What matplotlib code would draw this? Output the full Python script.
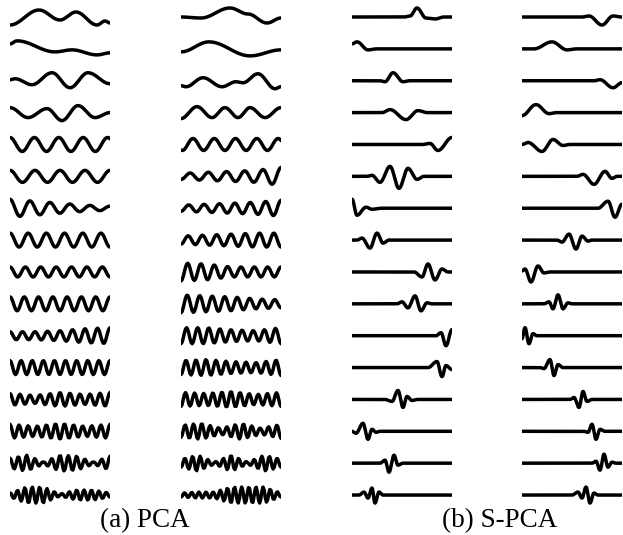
import numpy as np
import matplotlib
matplotlib.use("Agg")
import matplotlib.pyplot as plt

# peaks / troughs: (position along trace 0..1, height in px, up = +)
pca_a_top = [
    [(0, -8), (0.29, 7), (0.50, -3), (0.66, 5), (0.87, -8), (0.95, -4), (1.0, -6)],
    [(0, 5), (0.07, 8), (0.45, -3), (0.62, -1), (0.87, -6), (1.0, -4)],
    [(0, 1), (0.05, 2), (0.22, -4), (0.42, 8), (0.60, -7), (0.78, 8), (1.0, -3)],
    [(0, 5), (0.18, -5), (0.37, 4), (0.52, -8), (0.68, 7), (0.85, -5), (1.0, 0)],
]
pca_b_top = [
    [(0, 0), (0.2, -1), (0.49, 9), (0.67, 3), (0.86, -6), (1.0, -1)],
    [(0, -3), (0.28, 7), (0.69, -7), (1.0, -1)],
    [(0, -5), (0.05, -6), (0.22, 3), (0.41, -6), (0.55, -1), (0.62, -2), (0.77, 7), (0.94, -8), (1.0, -6)],
    [(0, -6), (0.16, 6), (0.31, -5), (0.44, 5), (0.57, -5), (0.69, 5), (0.84, -5), (1.0, 5)],
]

# rows 5..16 of the PCA columns: cycles per trace, phase (turns), amplitude envelope (px)
pca_a_cycles = [4.1, 4.0, 5.0, 5.5, 6.5, 7.0, 8.0, 9.0, 10.0, 11.0, 12.0, 13.5]
pca_a_phase = [0, 0, 0, 0, 0, 0, 0, 0, 0, 0, 0, 0]
pca_a_env = [
    [7, 7], [6, 6], [9, 7, 5, 3, 2], [7, 7], [5, 5], [7, 7],
    [4, 4, 5, 7, 8], [7, 7], [6, 4, 7, 5, 7], [7, 5, 8, 5, 7],
    [5, 8, 1, 8, 7, 1, 7], [2, 8, 8, 1, 5, 5, 2],
]
pca_b_cycles = [4.7, 5.5, 6.5, 7.0, 7.5, 8.0, 9.0, 10.0, 11.0, 12.0, 13.0, 14.0]
pca_b_phase = [0.436, 0.5, 0.5, 0.5, 0.5, 0.5, 0.5, 0.5, 0.5, 0.5, 0.5, 0.5]
pca_b_env = [
    [6, 6], [3, 4, 5, 6, 9], [3, 4, 5, 6, 8], [4, 5, 6, 7, 7], [9, 8, 5, 5, 5],
    [9, 8, 7, 5, 4], [8, 8, 6, 5, 8], [7, 8, 6, 5, 8], [7, 6, 8, 5, 7],
    [6, 8, 3, 8, 3, 7], [4, 8, 1, 8, 1, 8, 4], [2, 3, 3, 8, 8, 8, 2],
]

spca_a = [
    [(0, 0), (0.52, 0), (0.58, 1), (0.65, 9), (0.74, -1), (0.83, -2), (0.92, 0), (1, 0)],
    [(0, 5), (0.05, 7), (0.16, -1), (0.25, 0), (1, 0)],
    [(0, 0), (0.28, 0), (0.33, -1), (0.41, 8), (0.51, -1), (0.58, 0), (1, 0)],
    [(0, 0), (0.30, 0), (0.38, 3), (0.54, -7), (0.66, 2), (0.75, 0), (1, 0)],
    [(0, 0), (0.70, 0), (0.78, 1), (0.86, -6), (1.0, 7)],
    [(0, 0), (0.15, 0), (0.2, 1), (0.28, -6), (0.38, 10), (0.47, -12), (0.56, 8), (0.65, -3), (0.72, 0), (1, 0)],
    [(0, 9), (0.05, -7), (0.14, 1), (0.2, -1), (0.3, 0), (1, 0)],
    [(0, 0), (0.05, 0), (0.10, 2), (0.18, -8), (0.25, 7), (0.31, -3), (0.37, 0), (1, 0)],
    [(0, 0), (0.62, 0), (0.70, -5), (0.76, 8), (0.83, -8), (0.90, 3), (0.96, 0), (1, 0)],
    [(0, 0), (0.45, 0), (0.5, 2), (0.56, -4), (0.63, 8), (0.69, -7), (0.75, 1), (0.8, 0), (1, 0)],
    [(0, 0), (0.84, 0), (0.89, 3), (0.94, -10), (1.0, 6)],
    [(0, 0), (0.76, 0), (0.85, 6), (0.90, -9), (0.94, 2), (1.0, -2)],
    [(0, 0), (0.33, 0), (0.40, -2), (0.46, 9), (0.51, -8), (0.55, 3), (0.60, -1), (0.66, 0), (1, 0)],
    [(0, 0), (0.04, -2), (0.11, 8), (0.16, -8), (0.20, 2), (0.24, -1), (0.28, 0), (1, 0)],
    [(0, 0), (0.28, 0), (0.33, 3), (0.37, -9), (0.42, 8), (0.46, -2), (0.51, 0), (1, 0)],
    [(0, 0), (0.07, 0), (0.12, 3), (0.16, -3), (0.20, 7), (0.23, -8), (0.27, 3), (0.31, 0), (1, 0)],
]
spca_b = [
    [(0, 0), (0.6, 0), (0.67, 1), (0.80, -8), (0.91, 1), (1, 0)],
    [(0, 0), (0.12, 0), (0.30, 7), (0.45, -1), (0.55, 0), (1, 0)],
    [(0, 0), (0.72, 0), (0.78, 1), (0.91, -7), (1.0, -2)],
    [(0, -3), (0.14, 8), (0.27, -1), (0.35, 0), (1, 0)],
    [(0, 0), (0.06, 2), (0.20, -7), (0.31, 5), (0.41, -1), (0.48, 0), (1, 0)],
    [(0, 0), (0.55, 0), (0.61, 2), (0.72, -8), (0.83, 5), (0.90, -2), (0.95, 0), (1, 0)],
    [(0, 0), (0.76, 0), (0.86, 7), (0.93, -9), (1.0, 4)],
    [(0, 0), (0.35, 0), (0.40, -2), (0.47, 6), (0.54, -9), (0.60, 4), (0.66, -1), (0.70, 0), (1, 0)],
    [(0, 1), (0.03, 3), (0.09, -10), (0.16, 6), (0.22, -1), (0.28, 0), (1, 0)],
    [(0, 0), (0.22, 0), (0.27, 2), (0.31, -5), (0.36, 9), (0.41, -5), (0.46, 1), (0.5, 0), (1, 0)],
    [(0, -3), (0.03, 8), (0.07, -8), (0.11, 2), (0.15, 0), (1, 0)],
    [(0, 0), (0.18, 0), (0.22, -1), (0.28, 8), (0.32, -8), (0.36, 3), (0.41, 0), (1, 0)],
    [(0, 0), (0.48, 0), (0.52, 2), (0.57, -8), (0.61, 8), (0.65, -2), (0.70, 0), (1, 0)],
    [(0, 0), (0.62, 0), (0.66, -1), (0.70, 7), (0.74, -8), (0.78, 2), (0.83, 0), (1, 0)],
    [(0, 0), (0.70, 0), (0.74, 2), (0.78, -7), (0.82, 9), (0.86, -4), (0.90, 1), (0.94, 0), (1, 0)],
    [(0, 0), (0.50, 0), (0.56, 3), (0.60, -3), (0.64, 8), (0.68, -8), (0.72, 2), (0.76, 0), (1, 0)],
]

panel_labels = ["(a) PCA", "(b) S-PCA"]


def smooth_trace(points):
    # half-cosine segments between successive extrema
    ts, ys = [], []
    for (t0, y0), (t1, y1) in zip(points[:-1], points[1:]):
        u = np.linspace(0, 1, 25)
        ts.append(t0 + (t1 - t0) * u)
        ys.append(y0 + (y1 - y0) * (1 - np.cos(np.pi * u)) / 2)
    return np.concatenate(ts), np.concatenate(ys)


def wave_trace(cycles, phase, env):
    # coarse sampling, like the original eigenvector plots
    t = np.linspace(0, 1, 90)
    amp = np.interp(t, np.linspace(0, 1, len(env)), env)
    return t, amp * np.cos(2 * np.pi * (cycles * t + phase))


W, H = 623, 535
fig = plt.figure(figsize=(W / 100, H / 100), dpi=100)

col_left = [10, 181, 352, 522]
row_step = 31.87
top_row = 17

columns = []
for top, cyc, ph, env in [(pca_a_top, pca_a_cycles, pca_a_phase, pca_a_env),
                          (pca_b_top, pca_b_cycles, pca_b_phase, pca_b_env)]:
    traces = [smooth_trace(p) for p in top]
    traces += [wave_trace(c, p, e) for c, p, e in zip(cyc, ph, env)]
    columns.append(traces)
columns.append([smooth_trace(p) for p in spca_a])
columns.append([smooth_trace(p) for p in spca_b])

for x0, traces in zip(col_left, columns):
    ax = fig.add_axes([x0 / W, 20 / H, 100 / W, 515 / H])
    for i, (t, y) in enumerate(traces):
        ax.plot(t, top_row + i * row_step - y, color="black", lw=2.5,
                solid_capstyle="round", solid_joinstyle="round")
    ax.set_xlim(0, 1)
    ax.set_ylim(515, 0)
    ax.axis("off")

fig.text(145 / W, 1 - 521 / H, panel_labels[0], ha="center", va="center",
         fontsize=19.5, family="Liberation Serif")
fig.text(500 / W, 1 - 521 / H, panel_labels[1], ha="center", va="center",
         fontsize=19.5, family="Liberation Serif")

fig.savefig("out.png", dpi=100)
